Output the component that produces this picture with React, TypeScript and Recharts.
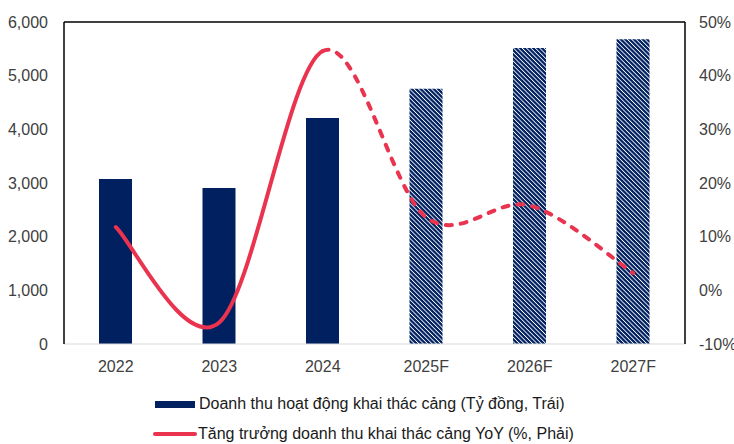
import React from "react";
import {
  ComposedChart,
  Bar,
  Line,
  XAxis,
  YAxis,
  Cell,
  Legend,
  ReferenceLine,
} from "recharts";

const categories = ["2022", "2023", "2024", "2025F", "2026F", "2027F"];
const revenue = [3075, 2905, 4210, 4755, 5515, 5680];
const growth = [11.8, -6.0, 44.6, 13.6, 15.8, 3.2];
const forecast = [false, false, false, true, true, true];
const leftTicks = [0, 1000, 2000, 3000, 4000, 5000, 6000];
const rightTicks = [-10, 0, 10, 20, 30, 40, 50];
const barLabel = "Doanh thu hoạt động khai thác cảng (Tỷ đồng, Trái)";
const lineLabel = "Tăng trưởng doanh thu khai thác cảng YoY (%, Phải)";

const data = categories.map((c, i) => ({
  name: c,
  revenue: revenue[i],
  growth: growth[i],
}));

const NAVY = "#002060";
const RED = "#E9334F";
const FONT = "'Liberation Sans', Arial, sans-serif";

// Excel-like smoothed curve (Catmull-Rom), drawing only segments [from, to]
function makeCurve(from: number, to: number) {
  return (context: any) => {
    let pts: [number, number][] = [];
    return {
      areaStart() {},
      areaEnd() {},
      lineStart() {
        pts = [];
      },
      point(x: number, y: number) {
        pts.push([+x, +y]);
      },
      lineEnd() {
        const n = pts.length;
        const s = Math.max(0, from);
        const e = Math.min(n - 1, to);
        if (n < 2 || e <= s) return;
        context.moveTo(pts[s][0], pts[s][1]);
        for (let i = s; i < e; i++) {
          const p0 = pts[Math.max(0, i - 1)];
          const p1 = pts[i];
          const p2 = pts[i + 1];
          const p3 = pts[Math.min(n - 1, i + 2)];
          context.bezierCurveTo(
            p1[0] + (p2[0] - p0[0]) / 6,
            p1[1] + (p2[1] - p0[1]) / 6,
            p2[0] - (p3[0] - p1[0]) / 6,
            p2[1] - (p3[1] - p1[1]) / 6,
            p2[0],
            p2[1]
          );
        }
      },
    };
  };
}

const solidCurve = makeCurve(0, 2);
const dashedCurve = makeCurve(2, 5);

const fmtLeft = (v: number) => v.toLocaleString("en-US");
const fmtRight = (v: number) => `${v}%`;

const renderLegend = () => (
  <div
    style={{
      height: 70,
      position: "relative",
      fontFamily: FONT,
      fontSize: 16,
      color: "#1a1a1a",
    }}
  >
    <div
      style={{
        position: "absolute",
        left: 155,
        top: 20,
        height: 20,
        display: "flex",
        alignItems: "center",
        whiteSpace: "nowrap",
      }}
    >
      <span
        style={{
          display: "inline-block",
          width: 40,
          height: 7,
          background: NAVY,
          marginRight: 4,
        }}
      />
      <span>{barLabel}</span>
    </div>
    <div
      style={{
        position: "absolute",
        left: 153,
        top: 50,
        height: 20,
        display: "flex",
        alignItems: "center",
        whiteSpace: "nowrap",
      }}
    >
      <span
        style={{
          display: "inline-block",
          width: 44,
          height: 4,
          borderRadius: 2,
          background: RED,
          marginRight: 1,
        }}
      />
      <span>{lineLabel}</span>
    </div>
  </div>
);

export default function App() {
  return (
    <div
      style={{
        position: "absolute",
        left: 0,
        top: 0,
        width: 734,
        height: 444,
        background: "#fff",
        fontFamily: FONT,
        overflow: "hidden",
      }}
    >
      <ComposedChart
        width={734}
        height={444}
        data={data}
        margin={{ top: 22, right: 0, bottom: 0, left: 0 }}
      >
        <defs>
          <pattern
            id="hatch"
            patternUnits="userSpaceOnUse"
            width={3.1}
            height={3.1}
            patternTransform="rotate(-45)"
          >
            <rect x={0} y={0} width={3.1} height={3.1} fill={NAVY} />
            <rect x={0} y={0} width={0.85} height={3.1} fill="#ffffff" />
          </pattern>
        </defs>
        <XAxis
          dataKey="name"
          height={30}
          tickLine={false}
          axisLine={{ stroke: "#D9D9D9", strokeWidth: 1 }}
          tick={{ fill: "#404040", fontSize: 16, fontFamily: FONT }}
          tickMargin={11}
        />
        <YAxis
          yAxisId="left"
          orientation="left"
          width={64}
          domain={[0, 6000]}
          ticks={leftTicks}
          tickFormatter={fmtLeft}
          tickLine={false}
          axisLine={{ stroke: "#000", strokeWidth: 1.5 }}
          tick={{ fill: "#404040", fontSize: 16, fontFamily: FONT }}
          tickMargin={10}
          interval={0}
        />
        <YAxis
          yAxisId="right"
          orientation="right"
          width={49}
          domain={[-10, 50]}
          ticks={rightTicks}
          tickFormatter={fmtRight}
          tickLine={false}
          axisLine={{ stroke: "#000", strokeWidth: 1.5 }}
          tick={{ fill: "#404040", fontSize: 16, fontFamily: FONT, textAnchor: "start" }}
          tickMargin={8}
          interval={0}
        />
        <ReferenceLine yAxisId="left" y={6000} stroke="#000" strokeWidth={1.5} />
        <Bar
          yAxisId="left"
          dataKey="revenue"
          barSize={33}
          fill={NAVY}
          isAnimationActive={false}
        >
          {data.map((d, i) => (
            <Cell key={d.name} fill={forecast[i] ? "url(#hatch)" : NAVY} />
          ))}
        </Bar>
        <Line
          yAxisId="right"
          dataKey="growth"
          type={solidCurve as any}
          stroke={RED}
          strokeWidth={4}
          strokeLinecap="round"
          dot={false}
          activeDot={false}
          isAnimationActive={false}
        />
        <Line
          yAxisId="right"
          dataKey="growth"
          type={dashedCurve as any}
          stroke={RED}
          strokeWidth={4}
          strokeLinecap="round"
          strokeDasharray="6 9"
          dot={false}
          activeDot={false}
          legendType="none"
          isAnimationActive={false}
        />
        <Legend verticalAlign="bottom" height={70} content={renderLegend} />
      </ComposedChart>
    </div>
  );
}
